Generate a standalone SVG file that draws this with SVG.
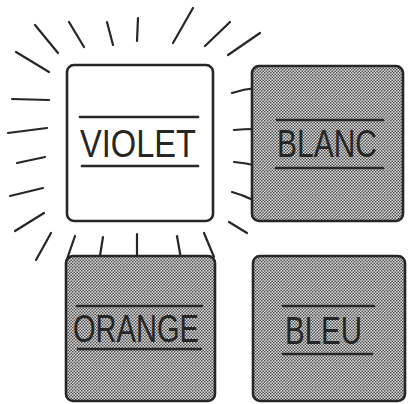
<svg xmlns="http://www.w3.org/2000/svg" width="408" height="404" viewBox="0 0 408 404">
<defs>
<pattern id="dots" patternUnits="userSpaceOnUse" width="3" height="3">
<rect width="3" height="3" fill="#dcdcdc"/>
<circle cx="0.75" cy="0.75" r="0.85" fill="#4a4a4a"/>
<circle cx="2.25" cy="2.25" r="0.85" fill="#4a4a4a"/>
</pattern>
<style>
.box{stroke:#262626;stroke-width:2.6}
.plain{fill:#ffffff}
.shaded{fill:url(#dots)}
.rule{stroke:#262626;stroke-width:2.6;stroke-linecap:round;fill:none}
.label{font-family:"Liberation Sans","DejaVu Sans",sans-serif;font-size:39px;fill:#262626}
.ray{stroke:#262626;stroke-width:2.2;stroke-linecap:round;fill:none}
</style>
</defs>
<rect width="408" height="404" fill="#ffffff"/>
<g id="connectors">
<line class="ray" x1="35" y1="25" x2="58" y2="53"/>
<line class="ray" x1="69" y1="22" x2="84" y2="47"/>
<line class="ray" x1="107" y1="22" x2="113" y2="45"/>
<line class="ray" x1="138" y1="18" x2="137" y2="41"/>
<line class="ray" x1="193" y1="8" x2="173" y2="43"/>
<line class="ray" x1="230" y1="22" x2="205" y2="46"/>
<line class="ray" x1="260" y1="33" x2="228" y2="55"/>
<line class="ray" x1="16" y1="52" x2="49" y2="72"/>
<line class="ray" x1="12" y1="99" x2="49" y2="100"/>
<line class="ray" x1="8" y1="133" x2="47" y2="128"/>
<line class="ray" x1="17" y1="163" x2="45" y2="157"/>
<line class="ray" x1="10" y1="196" x2="43" y2="188"/>
<line class="ray" x1="15" y1="231" x2="44" y2="213"/>
<line class="ray" x1="51" y1="233" x2="36" y2="260"/>
<line class="ray" x1="75" y1="236" x2="66" y2="262"/>
<line class="ray" x1="103" y1="237" x2="99" y2="262"/>
<line class="ray" x1="137" y1="234" x2="137" y2="256"/>
<line class="ray" x1="177" y1="236" x2="181" y2="259"/>
<line class="ray" x1="204" y1="233" x2="214" y2="257"/>
<path class="ray" d="M232 93 Q244 89 256 88"/>
<path class="ray" d="M234 130 Q244 129 255 129"/>
<path class="ray" d="M234 162 Q246 163 258 166"/>
<path class="ray" d="M232 192 Q243 195 253 200"/>
<line class="ray" x1="229" y1="222" x2="247" y2="233"/>
</g>
<g id="violet">
<rect class="box plain" x="67" y="65" width="146" height="156" rx="7"/>
<line class="rule" x1="80" y1="117" x2="198" y2="117"/>
<line class="rule" x1="82" y1="166" x2="198" y2="166"/>
<text class="label" x="80" y="157" textLength="116" lengthAdjust="spacingAndGlyphs">VIOLET</text>
</g>
<g id="blanc">
<rect class="box shaded" x="252" y="66" width="151" height="155" rx="7"/>
<line class="rule" x1="277" y1="120" x2="383" y2="120"/>
<line class="rule" x1="276" y1="168" x2="383" y2="168"/>
<text class="label" x="277" y="157" textLength="100" lengthAdjust="spacingAndGlyphs">BLANC</text>
</g>
<g id="orange">
<rect class="box shaded" x="66" y="256" width="149" height="145" rx="7"/>
<line class="rule" x1="77" y1="306" x2="202" y2="306"/>
<line class="rule" x1="78" y1="349" x2="201" y2="349"/>
<text class="label" x="73" y="342" textLength="126" lengthAdjust="spacingAndGlyphs">ORANGE</text>
</g>
<g id="bleu">
<rect class="box shaded" x="253" y="256" width="152" height="145" rx="7"/>
<line class="rule" x1="283" y1="306" x2="374" y2="306"/>
<line class="rule" x1="283" y1="354" x2="372" y2="354"/>
<text class="label" x="285" y="344" textLength="77" lengthAdjust="spacingAndGlyphs">BLEU</text>
</g>
</svg>
